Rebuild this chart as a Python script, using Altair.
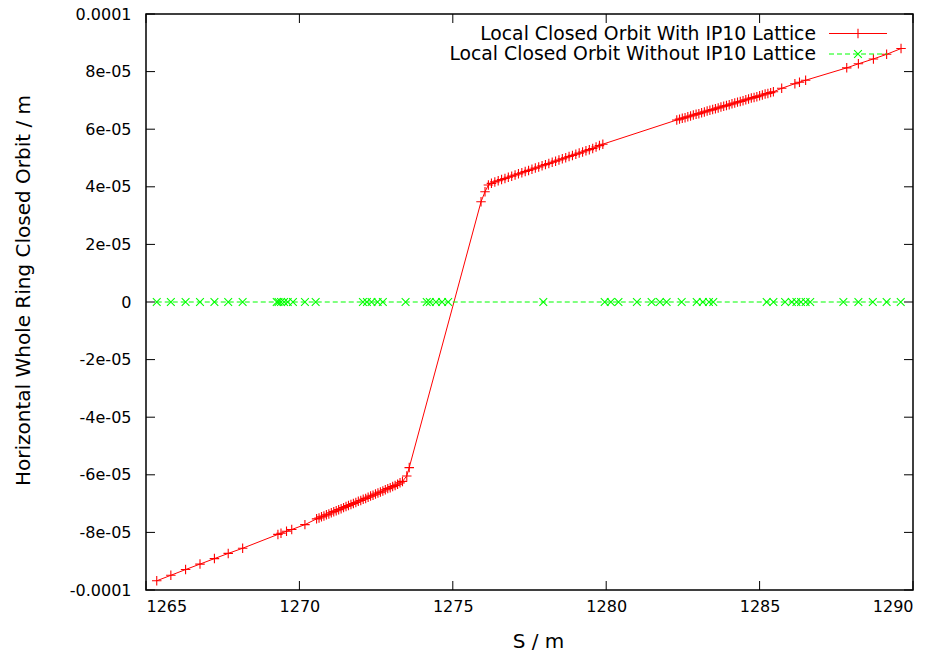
import altair as alt
import pandas as pd

# ---------------- data ----------------
# Red series: "With IP10 Lattice"  S [m], orbit [units of 1e-5 m]
with_s = [
    1265.35, 1265.81, 1266.29, 1266.76, 1267.23, 1267.68, 1268.15,
    1269.30, 1269.40, 1269.58, 1269.75, 1270.18,
    1270.56, 1270.64, 1270.72, 1270.80, 1270.88, 1270.96, 1271.04, 1271.12,
    1271.20, 1271.28, 1271.36, 1271.44, 1271.52, 1271.60, 1271.68, 1271.76,
    1271.84, 1271.92, 1272.00, 1272.08, 1272.16, 1272.24, 1272.32, 1272.40,
    1272.48, 1272.56, 1272.64, 1272.72, 1272.80, 1272.88, 1272.96, 1273.04,
    1273.12, 1273.20, 1273.28, 1273.36,
    1273.50, 1273.58, 1275.92, 1276.05, 1276.16,
    1276.26, 1276.37, 1276.48, 1276.59, 1276.70, 1276.81, 1276.92, 1277.03,
    1277.14, 1277.25, 1277.36, 1277.47, 1277.58, 1277.69, 1277.80, 1277.91,
    1278.02, 1278.13, 1278.24, 1278.35, 1278.46, 1278.57, 1278.68, 1278.79,
    1278.90, 1279.01, 1279.12, 1279.23, 1279.34, 1279.45, 1279.56, 1279.67,
    1279.78, 1279.89,
    1282.30, 1282.39, 1282.48, 1282.57, 1282.66, 1282.75, 1282.84, 1282.93,
    1283.02, 1283.11, 1283.20, 1283.29, 1283.38, 1283.47, 1283.56, 1283.65,
    1283.74, 1283.83, 1283.92, 1284.01, 1284.10, 1284.19, 1284.28, 1284.37,
    1284.46, 1284.55, 1284.64, 1284.73, 1284.82, 1284.91, 1285.00, 1285.09,
    1285.18, 1285.27, 1285.36, 1285.45,
    1285.72, 1286.15, 1286.30, 1286.50, 1287.84, 1288.22, 1288.71, 1289.14,
    1289.61,
]
with_x = [
    -9.68, -9.49, -9.29, -9.10, -8.91, -8.73, -8.55,
    -8.07, -8.03, -7.96, -7.90, -7.73,
    -7.53, -7.50, -7.46, -7.43, -7.39, -7.36, -7.32, -7.28,
    -7.25, -7.21, -7.18, -7.14, -7.10, -7.07, -7.03, -7.00,
    -6.96, -6.92, -6.89, -6.85, -6.82, -6.78, -6.74, -6.71,
    -6.67, -6.63, -6.60, -6.56, -6.52, -6.48, -6.45, -6.41,
    -6.37, -6.33, -6.28, -6.23,
    -6.04, -5.75, 3.48, 3.83, 4.06,
    4.12, 4.17, 4.21, 4.25, 4.29, 4.33, 4.37, 4.41,
    4.45, 4.49, 4.53, 4.57, 4.61, 4.65, 4.69, 4.73,
    4.77, 4.81, 4.85, 4.89, 4.93, 4.97, 5.01, 5.05,
    5.09, 5.13, 5.17, 5.21, 5.25, 5.29, 5.33, 5.38,
    5.43, 5.48,
    6.32, 6.35, 6.38, 6.40, 6.43, 6.46, 6.49, 6.52,
    6.54, 6.57, 6.60, 6.63, 6.66, 6.68, 6.71, 6.74,
    6.77, 6.80, 6.82, 6.85, 6.88, 6.91, 6.94, 6.96,
    6.99, 7.02, 7.05, 7.08, 7.10, 7.13, 7.16, 7.19,
    7.22, 7.24, 7.27, 7.30,
    7.42, 7.58, 7.63, 7.70, 8.13, 8.27, 8.44, 8.60,
    8.80,
]

# Green series: "Without IP10 Lattice"
without_s = [
    1265.35, 1265.81, 1266.29, 1266.76, 1267.23, 1267.68, 1268.15,
    1269.26, 1269.32, 1269.40, 1269.50, 1269.62, 1269.79,
    1270.18, 1270.53,
    1272.07, 1272.20, 1272.35, 1272.55, 1272.72,
    1273.46,
    1274.15, 1274.25, 1274.45, 1274.65, 1274.85,
    1277.95,
    1279.95, 1280.15, 1280.40,
    1281.00,
    1281.48, 1281.75, 1281.97,
    1282.46,
    1282.95, 1283.15, 1283.35, 1283.49,
    1285.23, 1285.45, 1285.83,
    1286.05, 1286.20, 1286.35, 1286.50, 1286.65,
    1287.73, 1288.22, 1288.69, 1289.14, 1289.60,
]
without_x = [
    0.0, 0.0, 0.0, 0.0, 0.0, 0.0, 0.0,
    0.0, 0.0, 0.0, 0.0, 0.0, 0.0,
    0.0, 0.0,
    0.0, 0.0, 0.0, 0.0, 0.0,
    0.0,
    0.0, 0.0, 0.0, 0.0, 0.0,
    0.0,
    0.0, 0.0, 0.0,
    0.0,
    0.0, 0.0, 0.0,
    0.0,
    0.0, 0.0, 0.0, 0.0,
    0.0, 0.0, 0.0,
    0.0, 0.0, 0.0, 0.0, 0.0,
    0.0, 0.0, 0.0, 0.0, 0.0,
]

x_ticks = [1265, 1270, 1275, 1280, 1285, 1290]
y_ticks = [-1e-4, -8e-5, -6e-5, -4e-5, -2e-5, 0.0, 2e-5, 4e-5, 6e-5, 8e-5, 1e-4]
y_tick_labels = ["-0.0001", "-8e-05", "-6e-05", "-4e-05", "-2e-05", "0",
                 "2e-05", "4e-05", "6e-05", "8e-05", "0.0001"]
legend_labels = ["Local Closed Orbit With IP10 Lattice",
                 "Local Closed Orbit Without IP10 Lattice"]
x_title = "S / m"
y_title = "Horizontal Whole Ring Closed Orbit / m"

assert len(with_s) == len(with_x)
assert len(without_s) == len(without_x)

# ---------------- chart ----------------
FONT = "DejaVu Sans"
W, H = 767, 576
RED = "#ff0000"
GREEN = "#00ff00"
PLUS = "M-1,0L1,0M0,-1L0,1"
XSHAPE = "M-1,-1L1,1M-1,1L1,-1"

df_with = pd.DataFrame({"S": with_s, "orbit": [v * 1e-5 for v in with_x]})
df_without = pd.DataFrame({"S": without_s, "orbit": without_x})
df_xt = pd.DataFrame({"S": x_ticks})
df_yt = pd.DataFrame({"orbit": y_ticks})

xscale = alt.Scale(domain=[1265, 1290], nice=False, zero=False)
yscale = alt.Scale(domain=[-1e-4, 1e-4], nice=False, zero=False)

label_js = "[" + ",".join(f"'{l}'" for l in y_tick_labels) + "][round(datum.value*50000)+5]"

xaxis = alt.Axis(values=x_ticks, format="d", title=x_title, ticks=False, tickSize=0,
                 domain=False, grid=False, labelPadding=8, labelFont=FONT,
                 labelFontSize=16, labelColor="black", titleFont=FONT,
                 titleFontSize=20, titleFontWeight="normal", titleColor="black",
                 titleX=392, titleY=51, titleBaseline="middle", titleAlign="center")
yaxis = alt.Axis(values=y_ticks, labelExpr=label_js, title=y_title, ticks=False,
                 tickSize=0, domain=False, grid=False, labelPadding=15,
                 labelFont=FONT, labelFontSize=16, labelColor="black",
                 titleFont=FONT, titleFontSize=20, titleFontWeight="normal",
                 titleColor="black", titleAngle=270, titleX=-123, titleY=276,
                 titleBaseline="middle", titleAlign="center")

X = alt.X("S:Q", scale=xscale, axis=xaxis)
Y = alt.Y("orbit:Q", scale=yscale, axis=yaxis)

red_line = alt.Chart(df_with).mark_line(color=RED, strokeWidth=1).encode(
    x=X, y=Y, order="S:Q",
)
red_pts = alt.Chart(df_with).mark_point(shape=PLUS, size=90, filled=False, stroke=RED,
                                        strokeWidth=1.1, opacity=1).encode(x=X, y=Y)
green_line = alt.Chart(df_without).mark_line(color=GREEN, strokeWidth=1,
                                             strokeDash=[5, 3]).encode(
    x=X, y=Y, order="S:Q",
)
green_pts = alt.Chart(df_without).mark_point(shape=XSHAPE, size=60, filled=False,
                                             stroke=GREEN, strokeWidth=1.1,
                                             opacity=1).encode(x=X, y=Y)

# inward tick marks on all four sides (gnuplot style)
tick_style = dict(color="black", strokeWidth=1)
yt_left = alt.Chart(df_yt).mark_rule(**tick_style).encode(
    y=Y, x=alt.value(0), x2=alt.value(9))
yt_right = alt.Chart(df_yt).mark_rule(**tick_style).encode(
    y=Y, x=alt.value(W - 9), x2=alt.value(W))
xt_bottom = alt.Chart(df_xt).mark_rule(**tick_style).encode(
    x=X, y=alt.value(H - 9), y2=alt.value(H))
xt_top = alt.Chart(df_xt).mark_rule(**tick_style).encode(
    x=X, y=alt.value(0), y2=alt.value(9))

# gnuplot-style key (label on the left, sample on the right)
LEG_TEXT_X = 670
LEG_LINE_X1, LEG_LINE_X2, LEG_MARK_X = 683, 741, 712
LEG_Y1, LEG_Y2 = 19.5, 40.0

leg_df1 = pd.DataFrame({"label": [legend_labels[0]]})
leg_df2 = pd.DataFrame({"label": [legend_labels[1]]})
leg_text1 = alt.Chart(leg_df1).mark_text(align="right", baseline="middle", font=FONT,
                                         fontSize=18.8, color="black").encode(
    text="label:N", x=alt.value(LEG_TEXT_X), y=alt.value(LEG_Y1))
leg_text2 = alt.Chart(leg_df2).mark_text(align="right", baseline="middle", font=FONT,
                                         fontSize=18.8, color="black").encode(
    text="label:N", x=alt.value(LEG_TEXT_X), y=alt.value(LEG_Y2))
leg_line1 = alt.Chart(leg_df1).mark_rule(color=RED, strokeWidth=1).encode(
    x=alt.value(LEG_LINE_X1), x2=alt.value(LEG_LINE_X2), y=alt.value(LEG_Y1))
leg_line2 = alt.Chart(leg_df2).mark_rule(color=GREEN, strokeWidth=1,
                                         strokeDash=[5, 3]).encode(
    x=alt.value(LEG_LINE_X1), x2=alt.value(LEG_LINE_X2), y=alt.value(LEG_Y2))
leg_pt1 = alt.Chart(leg_df1).mark_point(shape=PLUS, size=90, filled=False, stroke=RED,
                                        strokeWidth=1.1, opacity=1).encode(
    x=alt.value(LEG_MARK_X), y=alt.value(LEG_Y1))
leg_pt2 = alt.Chart(leg_df2).mark_point(shape=XSHAPE, size=60, filled=False, stroke=GREEN,
                                        strokeWidth=1.1, opacity=1).encode(
    x=alt.value(LEG_MARK_X), y=alt.value(LEG_Y2))

chart = alt.layer(
    red_line, green_line, green_pts, red_pts,
    yt_left, yt_right, xt_bottom, xt_top,
    leg_text1, leg_line1, leg_pt1, leg_text2, leg_line2, leg_pt2,
).properties(
    width=W, height=H,
    padding={"left": 146, "top": 14, "right": 30, "bottom": 65},
    autosize=alt.AutoSizeParams(type="none"),
    background="white",
).configure_view(
    stroke="black", strokeWidth=1.5
)

chart.save("out.html", embed_options={"renderer": "svg", "actions": False})
